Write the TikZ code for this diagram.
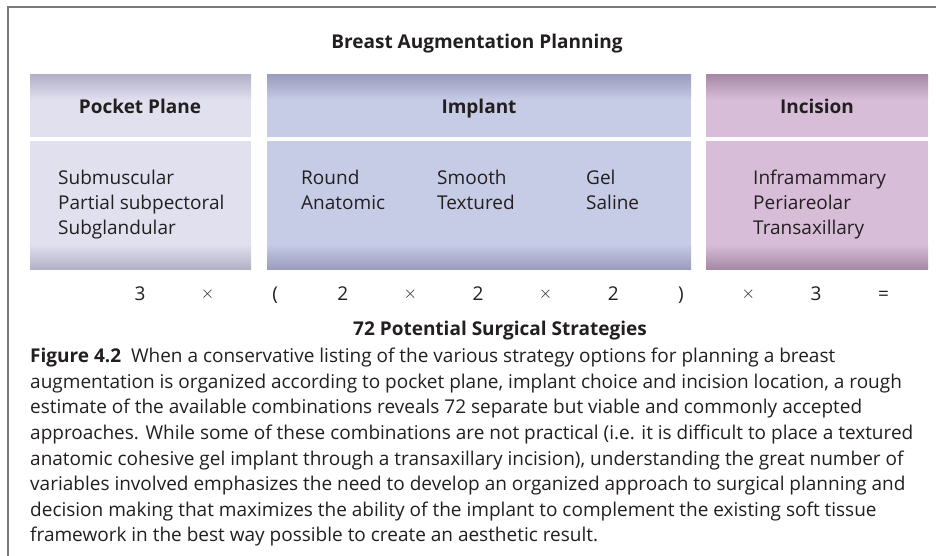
\documentclass[tikz,border=0pt]{standalone}
\usepackage{fontspec}
\setmainfont{Open Sans}
\definecolor{ink}{HTML}{231F20}
\definecolor{frame}{HTML}{7A7A7A}
\definecolor{pocketflat}{HTML}{E1E0EF}
\definecolor{pocketdark}{HTML}{B3B1C8}
\definecolor{implantflat}{HTML}{C6CBE6}
\definecolor{implantdark}{HTML}{9A9DBE}
\definecolor{incisionflat}{HTML}{D8BDD9}
\definecolor{incisiondark}{HTML}{A68AA5}

% one column: header band and body with dark edges
\newcommand{\planpanel}[4]{%
  \fill[#3] (#1, 75) rectangle (#2, 137);
  \shade[top color=#4, bottom color=#3] (#1, 75) rectangle (#2, 100);
  \fill[#3] (#1, 141) rectangle (#2, 269);
  \shade[top color=#3, bottom color=#4] (#1, 244) rectangle (#2, 269);
}
\newcommand{\eqtimes}{\raisebox{1.5pt}{$\times$}}

\begin{document}
\begin{tikzpicture}[x=1pt, y=-1pt, every node/.style={text=ink, inner sep=0pt},
  headtext/.style={font=\fontsize{19}{23}\selectfont\bfseries, anchor=base},
  itemtext/.style={font=\fontsize{19}{25}\selectfont, align=left, anchor=north west},
  eqtext/.style={font=\fontsize{19}{23}\selectfont, anchor=base}]
  \useasboundingbox (0, 0) rectangle (936, 556);
  \fill[white] (0, 0) rectangle (936, 556);
  \draw[frame, line width=1.2pt] (8, 556) -- (8, 7) -- (936, 7);

  \planpanel{30}{251}{pocketflat}{pocketdark}
  \planpanel{267}{691}{implantflat}{implantdark}
  \planpanel{706}{928}{incisionflat}{incisiondark}

  \node[headtext] (title) at (477, 49) {Breast Augmentation Planning};

  \node[headtext] (pocket) at (140, 114) {Pocket Plane};
  \node[headtext] (implant) at (479, 114) {Implant};
  \node[headtext] (incision) at (817, 114) {Incision};

  \node[itemtext] (planes) at (58, 170) {Submuscular\\Partial subpectoral\\Subglandular};
  \node[itemtext] (shape) at (301, 170) {Round\\Anatomic};
  \node[itemtext] (surface) at (437, 170) {Smooth\\Textured};
  \node[itemtext] (filler) at (586, 170) {Gel\\Saline};
  \node[itemtext] (sites) at (753, 170) {Inframammary\\Periareolar\\Transaxillary};

  % the count of strategies
  \foreach \s [count=\i from 0] in {{3},{\eqtimes},{(},{2},{\eqtimes},{2},{\eqtimes},{2},{)},{\eqtimes},{3},{=}}
    \node[eqtext] (eq\i) at (140 + 67.6*\i, 300) {\s};

  \node[headtext] (total) at (500, 335) {72 Potential Surgical Strategies};

  \node[itemtext, font=\fontsize{19}{25.6}\selectfont] (caption) at (30, 348) {%
    \textbf{Figure 4.2}\ \ When a conservative listing of the various strategy options for planning a breast\\
    augmentation is organized according to pocket plane, implant choice and incision location, a rough\\
    estimate of the available combinations reveals 72 separate but viable and commonly accepted\\
    approaches. While some of these combinations are not practical (i.e. it is difficult to place a textured\\
    anatomic cohesive gel implant through a transaxillary incision), understanding the great number of\\
    variables involved emphasizes the need to develop an organized approach to surgical planning and\\
    decision making that maximizes the ability of the implant to complement the existing soft tissue\\
    framework in the best way possible to create an aesthetic result.};
\end{tikzpicture}
\end{document}
